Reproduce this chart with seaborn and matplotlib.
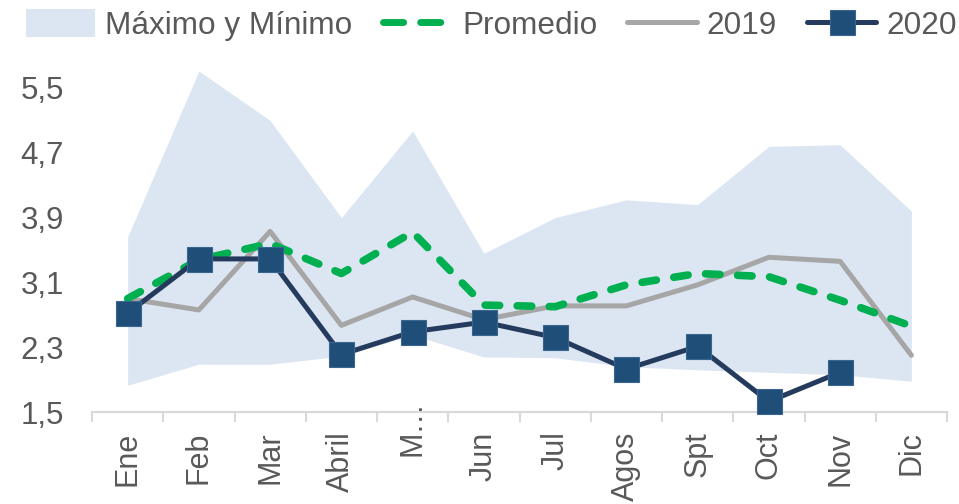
import numpy as np
import pandas as pd
import seaborn as sns
from matplotlib import pyplot as plt
from matplotlib.patches import Patch
from matplotlib.lines import Line2D
from matplotlib.ticker import FixedLocator, FuncFormatter
from matplotlib.transforms import ScaledTranslation

# data
months = ["Ene", "Feb", "Mar", "Abril", "M\u2026", "Jun", "Jul", "Agos", "Spt", "Oct", "Nov", "Dic"]
band_max = [3.66, 5.71, 5.10, 3.90, 4.97, 3.46, 3.90, 4.12, 4.06, 4.78, 4.80, 3.98]
band_min = [1.83, 2.09, 2.09, 2.19, 2.45, 2.18, 2.17, 2.06, 2.02, 1.99, 1.96, 1.88]
promedio = [2.90, 3.38, 3.58, 3.21, 3.72, 2.82, 2.80, 3.07, 3.21, 3.17, 2.88, 2.56]
y2019 = [2.90, 2.76, 3.73, 2.57, 2.92, 2.64, 2.81, 2.81, 3.07, 3.41, 3.36, 2.20]
y2020 = [2.72, 3.39, 3.39, 2.21, 2.49, 2.61, 2.42, 2.03, 2.31, 1.63, 1.99, np.nan]
yticks = [1.5, 2.3, 3.1, 3.9, 4.7, 5.5]

# colours
band_col = "#DCE6F2"
green = "#00B050"
gray = "#A6A6A6"
navy_line = "#243B5E"
navy_mark = "#1F4E79"
text_col = "#595959"
axis_col = "#D9D9D9"

sns.set_style("white")
plt.rcParams["font.family"] = ["Liberation Sans", "DejaVu Sans"]

df = pd.DataFrame({"x": np.arange(len(months)), "mes": months,
                   "max": band_max, "min": band_min,
                   "promedio": promedio, "y2019": y2019, "y2020": y2020})

fig = plt.figure(figsize=(9.59, 5.04), dpi=100)
ax = fig.add_axes([92 / 959, 1 - 412 / 504, (947 - 92) / 959, (412 - 56) / 504])

# max / min band
ax.fill_between(df["x"], df["min"], df["max"], color=band_col, lw=0, zorder=1)

# lines
sns.lineplot(data=df, x="x", y="y2019", ax=ax, color=gray, lw=3.6,
             estimator=None, zorder=3, clip_on=False)
sns.lineplot(data=df, x="x", y="promedio", ax=ax, color=green, lw=5.5,
             linestyle=(0, (1.9, 2.3)), dash_capstyle="round",
             estimator=None, zorder=4, clip_on=False)
sns.lineplot(data=df, x="x", y="y2020", ax=ax, color=navy_line, lw=3.6,
             marker="s", markersize=18, markerfacecolor=navy_mark,
             markeredgecolor="#3A6590", mew=0.8,
             estimator=None, zorder=5, clip_on=False)

# axes styling
ax.set_xlim(-0.5, len(months) - 0.5)
ax.set_ylim(1.5, 1.5 + (412 - 56) / 81)
ax.set_xticks(df["x"])
ax.set_xticklabels(months, rotation=90, fontsize=22, color=text_col)
ax.xaxis.set_minor_locator(FixedLocator(np.arange(-0.5, len(months), 1.0)))
ax.tick_params(axis="x", which="major", length=0, pad=14)
ax.tick_params(axis="x", which="minor", length=7, width=1.5, color=axis_col, bottom=True)
ax.set_yticks(yticks)
ax.yaxis.set_major_formatter(FuncFormatter(lambda v, p: f"{v:.1f}".replace(".", ",")))
ax.tick_params(axis="y", length=0, pad=20, labelsize=22.5, labelcolor=text_col)
ax.set_xlabel("")
ax.set_ylabel("")
for s in ["top", "right", "left"]:
    ax.spines[s].set_visible(False)
ax.spines["bottom"].set_color(axis_col)
ax.spines["bottom"].set_linewidth(1.5)

# truncated "M…" label: ellipsis runs up past the axis line like in the original
may = ax.xaxis.get_major_ticks()[4].label1
may.set_transform(may.get_transform() + ScaledTranslation(0, 0.31, fig.dpi_scale_trans))

# legend
handles = [
    Patch(facecolor=band_col, edgecolor="none"),
    Line2D([], [], color=green, lw=5, linestyle=(0, (2.9, 2.45)), dash_capstyle="round"),
    Line2D([], [], color=gray, lw=3.6),
    Line2D([], [], color=navy_line, lw=3.6, marker="s", markersize=18,
           markerfacecolor=navy_mark, markeredgecolor="#3A6590", mew=0.8),
]
labels = ["M\u00e1ximo y M\u00ednimo", "Promedio", "2019", "2020"]
leg = fig.legend(handles, labels, loc="upper center", bbox_to_anchor=(0.5125, 1.038),
                 ncol=4, frameon=False, fontsize=22.7, handlelength=2.2,
                 handleheight=1.0, handletextpad=0.32, columnspacing=0.95)
for t in leg.get_texts():
    t.set_color(text_col)

fig.savefig("out.png", dpi=100)
